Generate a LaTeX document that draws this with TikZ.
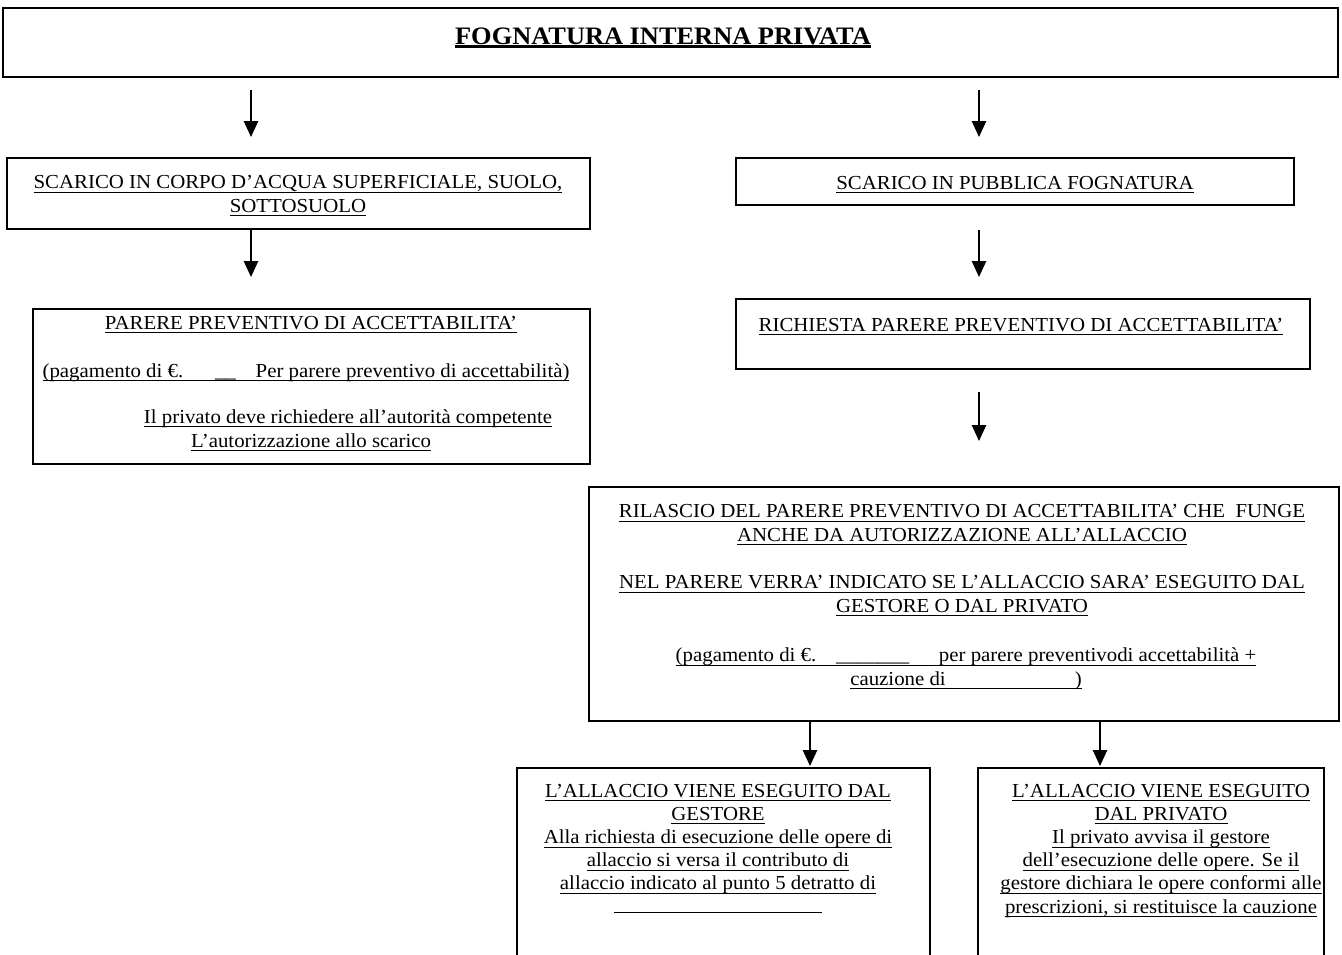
\documentclass[tikz,border=0pt]{standalone}
\usepackage{fontspec}
\setmainfont{Liberation Serif}[FakeStretch=1.05]
\usetikzlibrary{arrows.meta,fit}

\newcommand{\sotto}[2][0.5pt]{\setbox0\hbox{#2}\rlap{\rule[-2.3pt]{\wd0}{#1}}\box0}

\tikzset{
  casella/.style={draw,line width=1.1pt,inner sep=0pt},
  riga/.style={anchor=base,inner sep=0pt,align=center,font=\fontsize{11.3}{13.2}\selectfont},
  freccia/.style={line width=1.1pt,-{Triangle[length=9pt,width=8pt]}}
}

\begin{document}
\begin{tikzpicture}[x=0.02cm,y=-0.02cm]
    \useasboundingbox (0,0) rectangle (1342,954);
    \clip (0,0) rectangle (1342,954);

    \node[casella, fit={(3,8) (1338,77)}] (fognatura) {};
    \node[riga, font=\fontsize{14.3}{16}\selectfont\bfseries] (titolo) at (663,44) {\sotto[1.5pt]{FOGNATURA INTERNA PRIVATA}};

    % ramo di sinistra
    \node[casella, fit={(7,158) (590,229)}] (superficiale) {};
    \node[riga] (t-superficiale) at (298,212) {\sotto{SCARICO IN CORPO D’ACQUA SUPERFICIALE, SUOLO,}\\\sotto{SOTTOSUOLO}};
    \node[casella, fit={(33,309) (590,464)}] (parere) {};
    \node[riga] (t-parere1) at (311,329) {\sotto{PARERE PREVENTIVO DI ACCETTABILITA’}};
    \node[riga] (t-parere2) at (306,377) {\sotto{(pagamento di €.\hspace{1.6em}\_\_\hspace{1em}Per parere preventivo di accettabilità)}};
    \node[riga] (t-parere3) at (348,423) {\sotto{Il privato deve richiedere all’autorità competente}};
    \node[riga] (t-parere4) at (311,447) {\sotto{L’autorizzazione allo scarico}};

    % ramo di destra
    \node[casella, fit={(736,158) (1294,205)}] (pubblica) {};
    \node[riga] (t-pubblica) at (1015,189) {\sotto{SCARICO IN PUBBLICA FOGNATURA}};
    \node[casella, fit={(736,299) (1310,369)}] (richiesta) {};
    \node[riga] (t-richiesta) at (1021,331) {\sotto{RICHIESTA PARERE PREVENTIVO DI ACCETTABILITA’}};
    \node[casella, fit={(589,487) (1339,721)}] (rilascio) {};
    \node[riga] (t-rilascio1) at (962,541) {\sotto{RILASCIO DEL PARERE PREVENTIVO DI ACCETTABILITA’ CHE\ \ FUNGE}\\\sotto{ANCHE DA AUTORIZZAZIONE ALL’ALLACCIO}};
    \node[riga] (t-rilascio2) at (962,612) {\sotto{NEL PARERE VERRA’ INDICATO SE L’ALLACCIO SARA’ ESEGUITO DAL}\\\sotto{GESTORE O DAL PRIVATO}};
    \node[riga] (t-rilascio3) at (966,685) {\sotto{(pagamento di €.\hspace{1em}\_\_\_\_\_\_\_\hspace{1.5em}per parere preventivodi accettabilità +}\\\sotto{cauzione di\hspace{6.5em})}};

    % esecuzione dell'allaccio
    \node[casella, fit={(517,768) (930,1000)}] (gestore) {};
    \node[riga] (t-gestore) at (718,913) {\sotto{L’ALLACCIO VIENE ESEGUITO DAL}\\\sotto{GESTORE}\\\sotto{Alla richiesta di esecuzione delle opere di}\\\sotto{allaccio si versa il contributo di}\\\sotto{allaccio indicato al punto 5 detratto di}\\\rule{118pt}{0.7pt}};
    \node[casella, fit={(978,768) (1324,1000)}] (privato) {};
    \node[riga] (t-privato) at (1161,913) {\sotto{L’ALLACCIO VIENE ESEGUITO}\\\sotto{DAL PRIVATO}\\\sotto{Il privato avvisa il gestore}\\\sotto{dell’esecuzione delle opere. Se il}\\\sotto{gestore dichiara le opere conformi alle}\\\sotto{prescrizioni, si restituisce la cauzione}};

    \coordinate (s1) at (251,90);   \coordinate (e1) at (251,137);
    \coordinate (s2) at (251,229);  \coordinate (e2) at (251,277);
    \coordinate (s3) at (979,90);   \coordinate (e3) at (979,137);
    \coordinate (s4) at (979,230);  \coordinate (e4) at (979,277);
    \coordinate (s5) at (979,392);  \coordinate (e5) at (979,441);
    \coordinate (s6) at (810,721);  \coordinate (e6) at (810,766);
    \coordinate (s7) at (1100,721); \coordinate (e7) at (1100,766);
    \draw[freccia] (s1) -- (e1);
    \draw[freccia] (s2) -- (e2);
    \draw[freccia] (s3) -- (e3);
    \draw[freccia] (s4) -- (e4);
    \draw[freccia] (s5) -- (e5);
    \draw[freccia] (s6) -- (e6);
    \draw[freccia] (s7) -- (e7);
\end{tikzpicture}
\end{document}
